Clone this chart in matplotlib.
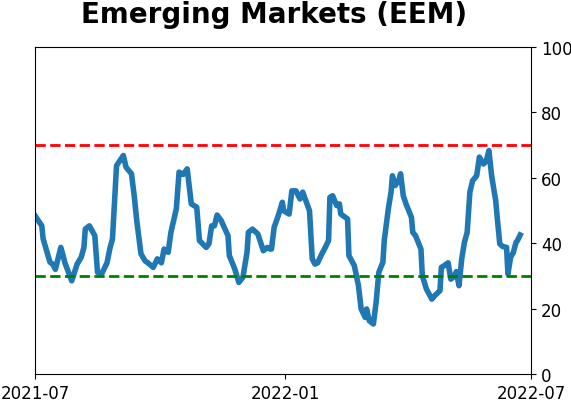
import matplotlib
matplotlib.use("Agg")
import matplotlib.pyplot as plt
import matplotlib.dates as mdates
import pandas as pd

dates = [
    "2021-07-01", "2021-07-06", "2021-07-07", "2021-07-12", "2021-07-14", "2021-07-16",
    "2021-07-20", "2021-07-22", "2021-07-23", "2021-07-28", "2021-08-01", "2021-08-04",
    "2021-08-06", "2021-08-07", "2021-08-10", "2021-08-14", "2021-08-16", "2021-08-19",
    "2021-08-23", "2021-08-25", "2021-08-27", "2021-08-30", "2021-09-04", "2021-09-06",
    "2021-09-10", "2021-09-12", "2021-09-14", "2021-09-17", "2021-09-20", "2021-09-22",
    "2021-09-26", "2021-09-29", "2021-10-02", "2021-10-04", "2021-10-07", "2021-10-09",
    "2021-10-13", "2021-10-15", "2021-10-18", "2021-10-21", "2021-10-24", "2021-10-28",
    "2021-10-30", "2021-11-04", "2021-11-06", "2021-11-08", "2021-11-10", "2021-11-12",
    "2021-11-15", "2021-11-20", "2021-11-21", "2021-11-25", "2021-11-28", "2021-12-01",
    "2021-12-04", "2021-12-05", "2021-12-08", "2021-12-12", "2021-12-16", "2021-12-19",
    "2021-12-21", "2021-12-22", "2021-12-24", "2021-12-27", "2021-12-30", "2021-12-31",
    "2022-01-04", "2022-01-06", "2022-01-09", "2022-01-12", "2022-01-14", "2022-01-19",
    "2022-01-21", "2022-01-23", "2022-01-25", "2022-01-28", "2022-01-30", "2022-02-02",
    "2022-02-03", "2022-02-05", "2022-02-08", "2022-02-10", "2022-02-11", "2022-02-16",
    "2022-02-17", "2022-02-21", "2022-02-24", "2022-02-26", "2022-03-01", "2022-03-02",
    "2022-03-04", "2022-03-07", "2022-03-09", "2022-03-11", "2022-03-14", "2022-03-15",
    "2022-03-18", "2022-03-20", "2022-03-21", "2022-03-23", "2022-03-26", "2022-03-27",
    "2022-03-29", "2022-03-31", "2022-04-04", "2022-04-05", "2022-04-07", "2022-04-11",
    "2022-04-12", "2022-04-15", "2022-04-19", "2022-04-21", "2022-04-25", "2022-04-26",
    "2022-04-28", "2022-05-01", "2022-05-03", "2022-05-06", "2022-05-07", "2022-05-09",
    "2022-05-11", "2022-05-13", "2022-05-15", "2022-05-17", "2022-05-19", "2022-05-22",
    "2022-05-24", "2022-05-27", "2022-05-29", "2022-05-31", "2022-06-02", "2022-06-05",
    "2022-06-06", "2022-06-08", "2022-06-10", "2022-06-13", "2022-06-14", "2022-06-16",
    "2022-06-18", "2022-06-20", "2022-06-21", "2022-06-23",
]
values = [
    48.4, 45.3, 41.3, 34.2, 33.6, 32.0,
    38.7, 35.7, 34.0, 28.5, 33.6, 35.7,
    38.7, 44.3, 45.3, 42.3, 31.1, 30.6,
    34.0, 38.2, 41.3, 63.7, 66.8, 63.2,
    61.2, 54.5, 46.4, 36.7, 34.6, 34.0,
    32.6, 35.2, 34.0, 38.2, 37.2, 43.3,
    50.5, 61.7, 61.0, 62.7, 52.0, 51.0,
    40.8, 38.7, 39.8, 45.3, 45.3, 48.6,
    46.9, 42.3, 36.2, 32.1, 28.0, 29.6,
    37.2, 43.3, 44.3, 42.8, 37.7, 38.7,
    38.2, 38.2, 44.9, 48.4, 52.5, 49.9,
    48.9, 56.0, 56.0, 53.5, 55.6, 49.9,
    35.2, 33.6, 34.0, 36.7, 38.2, 40.8,
    54.0, 54.5, 51.5, 52.0, 48.9, 47.4,
    36.2, 33.1, 27.0, 19.9, 17.3, 19.9,
    16.3, 15.3, 21.9, 31.1, 34.2, 40.8,
    50.5, 55.6, 60.6, 57.6, 59.6, 61.2,
    54.5, 52.0, 47.9, 43.3, 42.3, 38.2,
    30.1, 26.0, 22.9, 23.9, 25.5, 32.6,
    33.1, 34.0, 29.0, 30.1, 31.3, 27.0,
    35.2, 40.3, 43.3, 55.6, 59.1, 60.6,
    66.3, 64.2, 65.0, 68.3, 60.6, 53.0,
    48.4, 39.8, 39.0, 38.7, 30.6, 35.7,
    37.2, 40.3, 40.8, 42.5,
]
upper_level = 70
lower_level = 30
title = "Emerging Markets (EEM)"
x_start, x_end = "2021-07-01", "2022-07-01"
x_ticks = ["2021-07-01", "2022-01-01", "2022-07-01"]
y_ticks = [0, 20, 40, 60, 80, 100]

fig = plt.figure(figsize=(5.71, 4.02), dpi=100)
ax = fig.add_axes([0.0613, 0.067, 0.8687, 0.814])
ax.plot(pd.to_datetime(dates), values, color="#1f77b4", linewidth=4)
ax.axhline(upper_level, color="red", linestyle="--", linewidth=2)
ax.axhline(lower_level, color="green", linestyle="--", linewidth=2)
ax.set_xlim(pd.Timestamp(x_start), pd.Timestamp(x_end))
ax.set_ylim(0, 100)
ax.set_xticks(pd.to_datetime(x_ticks))
ax.xaxis.set_major_formatter(mdates.DateFormatter("%Y-%m"))
ax.set_yticks(y_ticks)
ax.yaxis.tick_right()
ax.tick_params(labelsize=12)
fig.text(0.48, 1 - 23 / 402, title, fontsize=20, fontweight="bold",
         ha="center", va="baseline")
fig.savefig("out.png", dpi=100)
